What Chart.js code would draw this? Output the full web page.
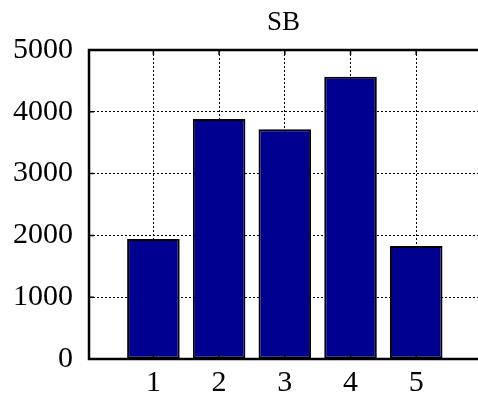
<!DOCTYPE html>
<html>
<head>
<meta charset="utf-8">
<script src="https://cdn.jsdelivr.net/npm/chart.js@4/dist/chart.umd.min.js"></script>
<style>
html,body{margin:0;padding:0;background:#fff;}
#wrap{width:478px;height:397px;position:relative;}
</style>
</head>
<body>
<div id="wrap"><canvas id="c" width="478" height="397"></canvas></div>
<script>
const categories = [1, 2, 3, 4, 5];
const values = [1942, 3883, 3717, 4568, 1828];
const yTicks = [0, 1000, 2000, 3000, 4000, 5000];
const title = 'SB';

const FONT = '"Liberation Serif", "Times New Roman", serif';

const framePlugin = {
  id: 'frame',
  afterDatasetsDraw(chart) {
    const {ctx, chartArea: a, scales} = chart;
    ctx.save();
    ctx.strokeStyle = '#000';
    ctx.lineWidth = 1.5;
    ctx.beginPath();
    categories.forEach(v => {
      const px = scales.x.getPixelForValue(v);
      ctx.moveTo(px, a.bottom); ctx.lineTo(px, a.bottom - 5);
      ctx.moveTo(px, a.top); ctx.lineTo(px, a.top + 5);
    });
    yTicks.forEach(v => {
      const py = scales.y.getPixelForValue(v);
      ctx.moveTo(a.left, py); ctx.lineTo(a.left + 5, py);
    });
    ctx.stroke();
    ctx.lineWidth = 2.5;
    ctx.beginPath();
    ctx.moveTo(a.right + 2, a.top);
    ctx.lineTo(a.left, a.top);
    ctx.lineTo(a.left, a.bottom);
    ctx.lineTo(a.right + 2, a.bottom);
    ctx.stroke();
    ctx.restore();
  }
};

new Chart(document.getElementById('c'), {
  type: 'bar',
  data: {
    datasets: [{
      data: categories.map((c, i) => ({x: c, y: values[i]})),
      backgroundColor: '#000090',
      borderColor: '#000000',
      borderWidth: 2,
      borderSkipped: false,
      barPercentage: 0.8,
      categoryPercentage: 1.0
    }]
  },
  options: {
    responsive: false,
    animation: false,
    layout: {padding: {left: 0, right: 0, top: 0, bottom: 0}},
    plugins: {legend: {display: false}, tooltip: {enabled: false}},
    scales: {
      x: {
        type: 'linear',
        position: 'bottom',
        offset: false,
        min: 0.02,
        max: 5.94,
        afterBuildTicks: s => { s.ticks = categories.map(v => ({value: v})); },
        afterFit: s => { s.height = 38; },
        ticks: {
          color: '#000',
          font: {family: FONT, size: 30},
          padding: 6,
          maxRotation: 0,
          autoSkip: false,
          callback: v => String(v)
        },
        grid: {
          offset: false,
          color: '#000',
          lineWidth: 1,
          drawTicks: false,
          tickLength: 0
        },
        border: {display: false, dash: [2, 2]}
      },
      x2: {
        type: 'linear',
        axis: 'x',
        position: 'top',
        offset: false,
        min: 0.02,
        max: 5.94,
        afterFit: s => { s.height = 50; },
        ticks: {display: false},
        grid: {display: false, drawTicks: false},
        border: {display: false},
        title: {
          display: true,
          text: title,
          color: '#000',
          font: {family: FONT, size: 27},
          padding: {top: 7, bottom: 0}
        }
      },
      y: {
        type: 'linear',
        min: 0,
        max: 5000,
        afterBuildTicks: s => { s.ticks = yTicks.map(v => ({value: v})); },
        afterFit: s => { s.width = 89; },
        ticks: {
          color: '#000',
          font: {family: FONT, size: 30},
          padding: 16,
          callback: v => String(v)
        },
        grid: {
          color: '#000',
          lineWidth: 1,
          drawTicks: false,
          tickLength: 0
        },
        border: {display: false, dash: [2, 2]}
      }
    }
  },
  plugins: [framePlugin]
});
</script>
</body>
</html>
